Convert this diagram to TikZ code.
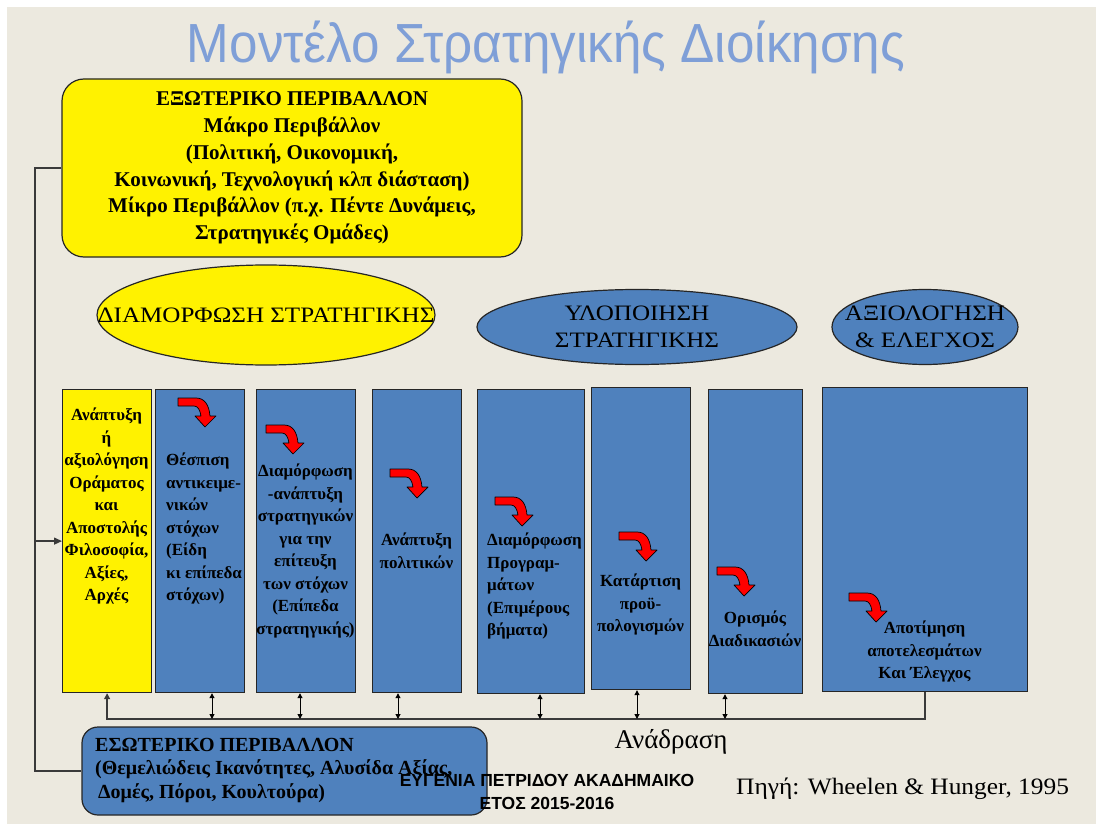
\documentclass[tikz,border=0pt]{standalone}
\usepackage{fontspec}
\setmainfont{Liberation Serif}
\newfontfamily\sansf{Liberation Sans}
\usetikzlibrary{shapes.geometric,arrows.meta,calc}
\definecolor{bg}{HTML}{ECE9DF}
\definecolor{ofblue}{HTML}{4F81BD}
\definecolor{ttl}{HTML}{7F9FD7}
\definecolor{lnc}{HTML}{3A3A3A}
\newcommand\setfs[2]{\fontsize{#1}{#2}\selectfont}
\newcommand\wide[1]{\scalebox{1.14}[1]{#1}}
\newcommand\ttltext{\resizebox{718pt}{1.06\height}{\sansf\setfs{52}{52}Μοντέλο Στρατηγικής Διοίκησης}}
\begin{document}
\begin{tikzpicture}[x=1pt,y=-1pt,
  box/.style={draw=black!85,line width=1.2pt,inner sep=0pt},
  ycol/.style={box,fill=yellow,anchor=north west},
  bcol/.style={box,fill=ofblue,anchor=north west},
  ctext/.style={inner sep=0pt,align=center,font=\bfseries\setfs{17}{22.5},anchor=north},
  ltext/.style={ctext,align=left,anchor=north west},
  etext/.style={inner sep=0pt,align=center,font=\setfs{22}{27}},
  conn/.style={draw=lnc,line width=1.3pt},
  dbl/.style={draw=black,line width=1pt,{Triangle[length=5pt,width=5pt]}-{Triangle[length=5pt,width=5pt]}},
  redbent/.pic={\filldraw[fill=red,draw=black,line width=0.7pt,line join=round]
     (0,0) -- (18,0) .. controls (26,0) and (31,6) .. (32,18) -- (38,18) -- (27,29) -- (17,18) -- (23,18)
     .. controls (22,12) and (20,8) .. (16,8) -- (0,8) -- cycle;}
]
\useasboundingbox (0,0) rectangle (1096,824);
\fill[white] (0,0) rectangle (1096,824);
\fill[bg] (7,7) rectangle (1096,824);

% title
\node[anchor=base,inner sep=0pt,text=ttl] (ttlm) at (546,63) {\ttltext};

% external environment
\node[box,fill=yellow,rounded corners=22pt,minimum width=460pt,minimum height=178pt,
      align=center,font=\bfseries\setfs{21}{26.8}] (ext) at (292,168)
  {ΕΞΩΤΕΡΙΚΟ ΠΕΡΙΒΑΛΛΟΝ\\Μάκρο Περιβάλλον\\(Πολιτική, Οικονομική,\\Κοινωνική, Τεχνολογική κλπ διάσταση)\\Μίκρο Περιβάλλον (π.χ. Πέντε Δυνάμεις,\\Στρατηγικές Ομάδες)};

% ellipses
\node[ellipse,box,fill=yellow,minimum width=338pt,minimum height=100pt] (e1) at (266,315) {};
\node[etext] (e1t) at (e1.center) {\wide{ΔΙΑΜΟΡΦΩΣΗ ΣΤΡΑΤΗΓΙΚΗΣ}};
\node[ellipse,box,fill=ofblue,minimum width=320pt,minimum height=75pt] (e2) at (637,327) {};
\node[etext] (e2t) at (e2.center) {\wide{ΥΛΟΠΟΙΗΣΗ}\\\wide{ΣΤΡΑΤΗΓΙΚΗΣ}};
\node[ellipse,box,fill=ofblue,minimum width=186pt,minimum height=75pt] (e3) at (925,327) {};
\node[etext] (e3t) at (e3.center) {\wide{ΑΞΙΟΛΟΓΗΣΗ}\\\wide{\& ΕΛΕΓΧΟΣ}};

% columns
\node[ycol,minimum width=89pt,minimum height=303pt] (c1) at (62,389) {};
\node[bcol,minimum width=89pt,minimum height=303pt] (c2) at (155,389) {};
\node[bcol,minimum width=99pt,minimum height=303pt] (c3) at (256,389) {};
\node[bcol,minimum width=89pt,minimum height=303pt] (c4) at (372,389) {};
\node[bcol,minimum width=107pt,minimum height=304pt] (c5) at (477,389) {};
\node[bcol,minimum width=99pt,minimum height=302pt] (c6) at (591,387) {};
\node[bcol,minimum width=94pt,minimum height=304pt] (c7) at (708,389) {};
\node[bcol,minimum width=205pt,minimum height=304pt] (c8) at (822,387) {};

% red arrows
\pic at (178,398) {redbent};
\pic at (266,425) {redbent};
\pic at (390,469) {redbent};
\pic at (495,497) {redbent};
\pic at (619,532) {redbent};
\pic at (717,567) {redbent};
\pic at (849,593) {redbent};

% column texts
\node[ctext] (t1) at (106.5,408) {Ανάπτυξη\\ή\\αξιολόγηση\\Οράματος\\και\\Αποστολής\\Φιλοσοφία,\\Αξίες,\\Αρχές};
\node[ltext] (t2) at (166,453) {Θέσπιση\\αντικειμε-\\νικών\\στόχων\\(Είδη\\κι επίπεδα\\στόχων)};
\node[ctext] (t3) at (305.5,464) {Διαμόρφωση\\-ανάπτυξη\\στρατηγικών\\για την\\επίτευξη\\των στόχων\\(Επίπεδα\\στρατηγικής)};
\node[ctext] (t4) at (416.5,533) {Ανάπτυξη\\πολιτικών};
\node[ltext] (t5) at (487,533) {Διαμόρφωση\\Προγραμ-\\μάτων\\(Επιμέρους\\βήματα)};
\node[ctext] (t6) at (640.5,574) {Κατάρτιση\\προϋ-\\πολογισμών};
\node[ctext] (t7) at (755,611) {Ορισμός\\Διαδικασιών};
\node[ctext] (t8) at (924.5,621) {Αποτίμηση\\αποτελεσμάτων\\Και Έλεγχος};

% internal environment
\node[box,fill=ofblue,rounded corners=16pt,minimum width=405pt,minimum height=88pt] (int) at (284.5,771) {};
\node[anchor=north west,align=left,inner sep=0pt,font=\bfseries\setfs{20}{23.5}] (intt) at (95,738)
  {ΕΣΩΤΕΡΙΚΟ ΠΕΡΙΒΑΛΛΟΝ\\(Θεμελιώδεις Ικανότητες, Αλυσίδα Αξίας,\\\hspace{3pt}Δομές, Πόροι, Κουλτούρα)};

% connectors
\coordinate (jx) at (35,0);
\coordinate (fb) at (0,719);
\draw[conn] (ext.west) -- (ext.west -| jx) -- (int.west -| jx) -- (int.west);
\draw[conn,-{Triangle[length=8pt,width=7pt]}] (c1.west -| jx) -- (c1.west);
\draw[conn,-{Triangle[length=6pt,width=6pt]}] (c8.south) -- (c8.south |- fb) -- (c1.south |- fb) -- (c1.south);
\coordinate (a2) at (212,719);
\coordinate (a3) at (300,719);
\coordinate (a4) at (398,719);
\coordinate (a5) at (540,719);
\coordinate (a6) at (637,719);
\coordinate (a7) at (725,719);
\draw[dbl] (a2 |- c2.south) -- (a2);
\draw[dbl] (a3 |- c3.south) -- (a3);
\draw[dbl] (a4 |- c4.south) -- (a4);
\draw[dbl] (a5 |- c5.south) -- (a5);
\draw[dbl] (a6 |- c6.south) -- (a6);
\draw[dbl] (a7 |- c7.south) -- (a7);

% labels
\node[anchor=base,inner sep=0pt,font=\setfs{27}{30}] (fbl) at (671,748) {Ανάδραση};
\node[anchor=north,align=center,inner sep=0pt,font=\sansf\bfseries\setfs{17.5}{23}] (auth) at (547,774)
  {ΕΥΓΕΝΙΑ ΠΕΤΡΙΔΟΥ ΑΚΑΔΗΜΑΙΚΟ\\ΕΤΟΣ 2015-2016};
\node[anchor=base west,inner sep=0pt,font=\setfs{23.5}{28}] (src) at (736,794) {\scalebox{1.08}[1]{Πηγή: Wheelen \& Hunger, 1995}};
\end{tikzpicture}
\end{document}
